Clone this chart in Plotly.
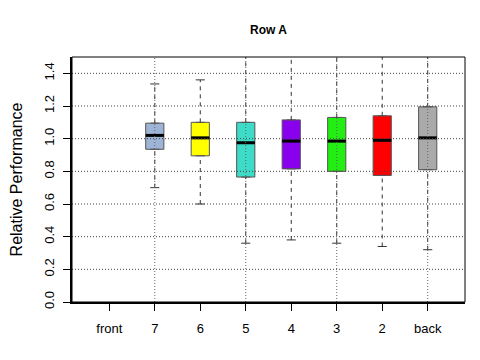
import plotly.graph_objects as go

# groups along the row, front to back
categories = ["front", "7", "6", "5", "4", "3", "2", "back"]
colors = [None, "#9db4d6", "#ffff00", "#3ddcc8", "#8800ee", "#22ee11", "#ff0000", "#aaaaaa"]

# box statistics (None = no data for that group)
lower_fence = [None, 0.70, 0.60, 0.36, 0.38, 0.36, 0.34, 0.32]
q1 = [None, 0.935, 0.895, 0.765, 0.815, 0.80, 0.775, 0.81]
median = [None, 1.02, 1.005, 0.975, 0.985, 0.985, 0.99, 1.005]
q3 = [None, 1.095, 1.10, 1.10, 1.115, 1.13, 1.14, 1.195]
upper_fence = [None, 1.335, 1.36, 1.80, 1.80, 1.80, 1.80, 1.80]

y_ticks = [0.0, 0.2, 0.4, 0.6, 0.8, 1.0, 1.2, 1.4]
x_grid = [2, 4, 6, 8]

box_w = 0.4
cap_w = 0.2

fig = go.Figure()

for i, cat in enumerate(categories):
    if median[i] is None:
        continue
    pos = i + 1
    # box body (whiskers drawn separately so they can be dashed)
    fig.add_trace(go.Box(
        x=[pos], q1=[q1[i]], median=[median[i]], q3=[q3[i]],
        lowerfence=[q1[i]], upperfence=[q3[i]],
        width=box_w, fillcolor=colors[i],
        line=dict(color="#555555", width=1),
        boxpoints=False, hoverinfo="skip"))
    # thick median line
    fig.add_trace(go.Scatter(
        x=[pos - box_w / 2, pos + box_w / 2], y=[median[i], median[i]],
        mode="lines", line=dict(color="black", width=3), hoverinfo="skip"))
    # dashed whiskers
    for lo, hi in [(lower_fence[i], q1[i]), (q3[i], upper_fence[i])]:
        fig.add_trace(go.Scatter(
            x=[pos, pos], y=[lo, hi], mode="lines",
            line=dict(color="#333333", width=1, dash="4px,4px"), hoverinfo="skip"))
    # staples
    for v in [lower_fence[i], upper_fence[i]]:
        fig.add_trace(go.Scatter(
            x=[pos - cap_w / 2, pos + cap_w / 2], y=[v, v], mode="lines",
            line=dict(color="#333333", width=1), hoverinfo="skip"))

# dotted grid drawn on top of the boxes
for v in y_ticks[1:]:
    fig.add_hline(y=v, line=dict(color="#444444", width=1, dash="1px,2px"), layer="above")
for v in x_grid:
    fig.add_vline(x=v, line=dict(color="#666666", width=1, dash="1px,2px"), layer="above")

fig.add_shape(type="rect", xref="paper", yref="paper", x0=0, y0=0, x1=1, y1=1,
              line=dict(color="black", width=1), layer="above")

# page body has an 8px margin, so the figure is a little smaller than the window
fig.update_layout(
    width=472, height=352,
    margin=dict(l=64, r=15, t=49, b=58),
    plot_bgcolor="white", paper_bgcolor="white",
    showlegend=False,
    font=dict(family="Liberation Sans, Arial, sans-serif", size=13, color="black"),
    title=dict(text="<b>Row A</b>", x=0.5, xref="paper", y=1 - 22 / 352,
               yanchor="middle", font=dict(size=12)),
    xaxis=dict(range=[0.18, 8.82], tickvals=list(range(1, 9)), ticktext=categories,
               showgrid=False, zeroline=False, showline=True, linecolor="black",
               linewidth=2, ticks="outside", ticklen=7, tickcolor="black",
               ticklabelstandoff=6, automargin=False),
    yaxis=dict(range=[0, 1.5], tickvals=y_ticks, tickformat=".1f", tickangle=-90,
               showgrid=False, zeroline=False, showline=True, linecolor="black",
               linewidth=2, ticks="outside", ticklen=7, tickcolor="black",
               ticklabelstandoff=4, automargin=False,
               title=dict(text="Relative Performance", standoff=22)),
)

fig.write_html("out.html")
